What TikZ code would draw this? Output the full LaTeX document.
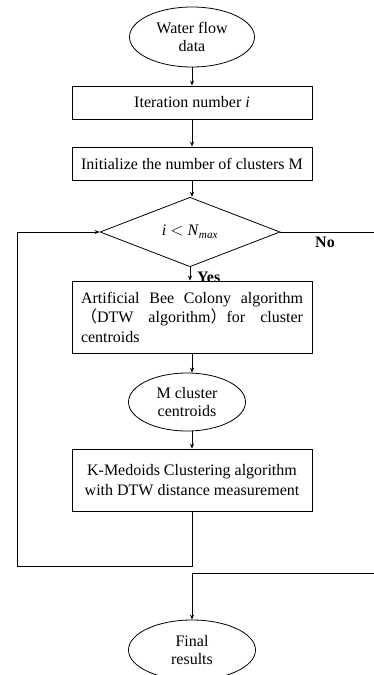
\documentclass[tikz,border=0pt]{standalone}
\usepackage{fontspec}
\setmainfont{Liberation Serif}
\newfontfamily\cjk{Noto Sans CJK SC}
\usetikzlibrary{shapes.geometric,arrows.meta}
\begin{document}
\begin{tikzpicture}[x=1pt,y=-1pt,
  every node/.style={font=\fontsize{16}{19.5}\selectfont, inner sep=0pt},
  proc/.style={draw, rectangle, minimum width=240pt, align=center, line width=0.8pt},
  term/.style={draw, ellipse, align=center, line width=0.8pt, font=\fontsize{16}{18}\selectfont},
  decis/.style={draw, diamond, minimum width=180pt, minimum height=53pt, line width=0.8pt},
  arr/.style={-{Stealth[length=5pt,width=4pt]}, line width=0.8pt},
  lbl/.style={font=\bfseries\fontsize{16}{19}\selectfont}
]
\useasboundingbox (0,0) rectangle (374,675);

\node[term, minimum width=125pt, minimum height=60pt] (wf) at (192,37) {Water flow\\data};
\node[proc, minimum height=33pt] (it) at (192,102.5) {Iteration number \textit{i}};
\node[proc, minimum height=33pt] (init) at (192,163.5) {Initialize the number of clusters M};
\node[decis] (dec) at (190,232) {\textit{i} $<$ \textit{N}\textsubscript{\textit{max}}};
\node[proc, minimum height=72pt, text width=222pt, align=left] (abc) at (192,317)
  {\leavevmode\hbox to 222pt{Artificial\hfill Bee\hfill Colony\hfill algorithm}\\
   \leavevmode\hbox to 222pt{{\cjk （}DTW\hfill algorithm{\cjk ）}for\hfill cluster}\\
   centroids};
\node[term, minimum width=117pt, minimum height=58pt] (mc) at (187,402) {M cluster\\centroids};
\node[proc, minimum height=62pt] (km) at (192,480) {K-Medoids Clustering algorithm\\with DTW distance measurement};
\node[term, minimum width=127pt, minimum height=60pt] (fr) at (192,650) {Final\\results};

\node[lbl, anchor=base west] (yes) at (197,282) {Yes};
\node[lbl] (no) at (325,242) {No};

\coordinate (lb) at (17,566);
\coordinate (n1) at (390,232);
\coordinate (n2) at (390,573);

\draw[arr] (wf.south) -- (it.north);
\draw[arr] (it.south) -- (init.north);
\draw[arr] (init.south) -- (init.south |- dec.north);
\draw[arr] (dec.south) -- (dec.south |- abc.north);
\draw[arr] (abc.south) -- (abc.south |- mc.north);
\draw[arr] (abc.south |- mc.south) -- (km.north);
\draw[arr] (km.south) |- (lb) |- (dec.west);
\draw[arr] (dec.east) -- (n1) -- (n2) -| (fr.north);
\end{tikzpicture}
\end{document}
